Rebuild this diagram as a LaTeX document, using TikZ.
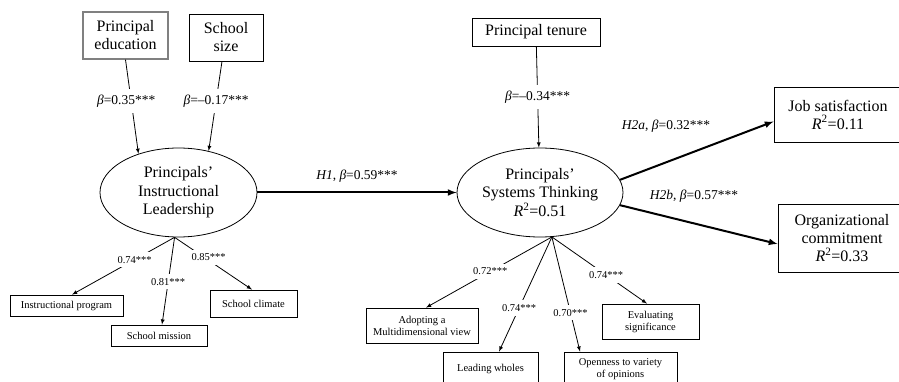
\documentclass[tikz,border=0pt]{standalone}
\usepackage{fontspec}
\setmainfont{Liberation Serif}
\usetikzlibrary{shapes.geometric}

\begin{document}
\begin{tikzpicture}[x=1pt,y=-1pt,
    box/.style={draw,line width=0.8pt,align=center,inner sep=0pt,font=\fontsize{16}{18}\selectfont},
    smallbox/.style={draw,line width=0.8pt,align=center,inner sep=0pt,font=\fontsize{10.5}{12}\selectfont},
    lv/.style={draw,line width=0.8pt,ellipse,align=center,inner sep=0pt,font=\fontsize{16}{18.5}\selectfont},
    coef/.style={fill=white,inner xsep=2pt,inner ysep=6pt,font=\fontsize{13.5}{15}\selectfont},
    hyp/.style={font=\fontsize{13.5}{15}\selectfont},
    lbl/.style={fill=white,inner sep=4pt,font=\fontsize{10.5}{12}\selectfont},
    thin/.style={line width=0.8pt,-latex},
    thick/.style={line width=2pt,-latex}]
  \useasboundingbox (0,0) rectangle (899,382);

  % exogenous variables
  \node[box,draw=gray,line width=1.3pt,minimum width=85pt,minimum height=47pt] (edu) at (125.5,35.5) {Principal\\education};
  \node[box,minimum width=74pt,minimum height=47pt] (size) at (226,37.5) {School\\size};
  \node[box,minimum width=128pt,minimum height=28pt] (tenure) at (536,32) {Principal tenure};

  % latent variables
  \node[lv,minimum width=157pt,minimum height=89pt] (il) at (178.5,192.5) {Principals'\\Instructional\\Leadership};
  \node[lv,minimum width=166pt,minimum height=89pt] (st) at (540,192.5) {Principals'\\Systems Thinking\\\textit{R}\textsuperscript{2}=0.51};

  % outcomes
  \node[box,minimum width=128pt,minimum height=55pt] (job) at (838,114.5) {Job satisfaction\\\textit{R}\textsuperscript{2}=0.11};
  \node[box,minimum width=128pt,minimum height=68pt] (org) at (842,238) {Organizational\\commitment\\\textit{R}\textsuperscript{2}=0.33};

  % indicators
  \node[smallbox,minimum width=113pt,minimum height=21pt] (prog) at (66.5,305.5) {Instructional program};
  \node[smallbox,minimum width=96pt,minimum height=21pt] (miss) at (159,335.5) {School mission};
  \node[smallbox,minimum width=87pt,minimum height=27pt] (clim) at (253.5,303.5) {School climate};
  \node[smallbox,minimum width=112pt,minimum height=35pt] (adopt) at (422,325.5) {Adopting a\\Multidimensional view};
  \node[smallbox,minimum width=95pt,minimum height=34pt] (whole) at (490.5,369) {Leading wholes};
  \node[smallbox,minimum width=113pt,minimum height=34pt] (open) at (620.5,369) {Openness to variety\\of opinions};
  \node[smallbox,minimum width=97pt,minimum height=35pt] (eval) at (650.5,321.5) {Evaluating\\significance};

  % controls
  \draw[thin] (edu.south) -- node[coef,pos=0.44,xshift=-5pt] {{\itshape β}=0.35***} (il.136);
  \draw[thin] ([xshift=-4pt]size.south) -- node[coef,pos=0.44] {{\itshape β}=--0.17***} (il.54);
  \draw[thin] (tenure) -- node[coef,pos=0.5] {{\itshape β}=--0.34***} (st);

  % hypotheses
  \draw[thick] (il.east) -- node[hyp,midway,above=6pt] {\textit{H1}, {\itshape β}=0.59***} (st.west);
  \draw[thick] (st.9) -- node[hyp,pos=0.3,above=26pt] {\textit{H2a}, {\itshape β}=0.32***} ([yshift=-7pt]job.west);
  \draw[thick] (st.-9) -- node[hyp,pos=0.47,above=17pt] {\textit{H2b}, {\itshape β}=0.57***} ([yshift=-6pt]org.west);

  % loadings
  \draw[thin] (il.265) -- node[lbl,pos=0.39] {0.74***} ([xshift=5.5pt]prog.north);
  \draw[thin] (il.265) -- node[lbl,pos=0.51] {0.81***} ([xshift=3pt]miss.north);
  \draw[thin] (il.265) -- node[lbl,pos=0.44,yshift=3pt] {0.85***} ([xshift=-1.5pt]clim.north);
  \draw[thin] (st.285) -- node[lbl,pos=0.49] {0.72***} ([xshift=4pt]adopt.north);
  \draw[thin] (st.285) -- node[lbl,pos=0.62] {0.74***} ([xshift=8.5pt]whole.north);
  \draw[thin] (st.285) -- node[lbl,pos=0.66] {0.70***} ([xshift=-40.5pt]open.north);
  \draw[thin] (st.285) -- node[lbl,pos=0.57] {0.74***} ([xshift=-3.5pt]eval.north);
\end{tikzpicture}
\end{document}
